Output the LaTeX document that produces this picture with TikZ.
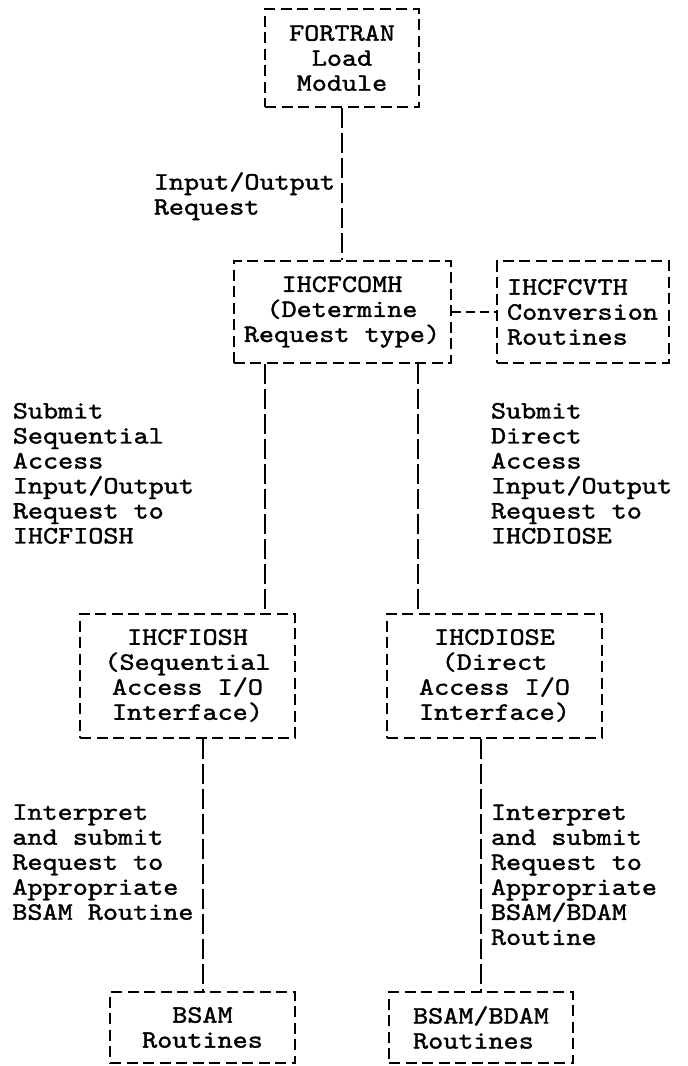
\documentclass[tikz,border=0pt]{standalone}
\usepackage{fontspec}
\usetikzlibrary{positioning}

\newfontfamily\ibmfont[FakeBold=1.4, FakeStretch=1.15]{lmmono10-regular.otf}
\newcommand{\ibmtype}{\fontsize{25pt}{25pt}\selectfont\ibmfont}

\begin{document}
\begin{tikzpicture}[x=1pt, y=-1pt, node distance=44pt,
    module/.style={rectangle, draw=black, line width=2pt, dash pattern=on 11pt off 5.5pt,
                   inner sep=0pt, align=center, font=\ibmtype},
    link/.style={draw=black, line width=2pt, dash pattern=on 20pt off 5pt},
    flow_label/.style={inner sep=0pt, align=left, font=\ibmtype}]

    \useasboundingbox (0,0) rectangle (688,1066);

    \node[module, minimum width=154pt, minimum height=98pt] (fortran) at (342,58) {FORTRAN\\Load\\Module};

    \node[module, minimum width=217pt, minimum height=102pt, below=152pt of fortran] (comh) {IHCFCOMH\\(Determine\\Request type)};

    \node[module, minimum width=172pt, minimum height=102pt, align=left, right=of comh] (cvth) {IHCFCVTH\\Conversion\\Routines};

    \node[module, minimum width=215pt, minimum height=124pt] (fiosh) at (187.5,675.5) {IHCFIOSH\\(Sequential\\Access I/O\\Interface)};

    \node[module, minimum width=215pt, minimum height=124pt] (diose) at (494.5,675.5) {IHCDIOSE\\(Direct\\Access I/O\\Interface)};

    \node[module, minimum width=185pt, minimum height=71pt] (bsam) at (202.5,1027.5) {BSAM\\Routines};

    \node[module, minimum width=184pt, minimum height=71pt, align=left, right=92pt of bsam] (bdam) {BSAM/BDAM\\Routines};

    \draw[link] (fortran) -- node[flow_label, left=6pt, pos=0.58] (io_label) {Input/Output\\Request} (comh);
    \draw[link, dash pattern=on 9pt off 5pt] (comh) -- (cvth);
    \draw[link] ([xshift=-77pt]comh.south) -- node[flow_label, left=70pt, pos=0.44] (seq_label) {Submit\\Sequential\\Access\\Input/Output\\Request to\\IHCFIOSH} ([xshift=-77pt]comh.south |- fiosh.north);
    \draw[link] ([xshift=76pt]comh.south) -- node[flow_label, right=72pt, pos=0.44] (dir_label) {Submit\\Direct\\Access\\Input/Output\\Request to\\IHCDIOSE} ([xshift=76pt]comh.south |- diose.north);
    \draw[link] (bsam.north |- fiosh.south) -- node[flow_label, left=8pt, pos=0.49] (bsam_label) {Interpret\\and submit\\Request to\\Appropriate\\BSAM Routine} (bsam.north);
    \draw[link] (bdam.north |- diose.south) -- node[flow_label, right=9pt, pos=0.54] (bdam_label) {Interpret\\and submit\\Request to\\Appropriate\\BSAM/BDAM\\Routine} (bdam.north);

\end{tikzpicture}
\end{document}
